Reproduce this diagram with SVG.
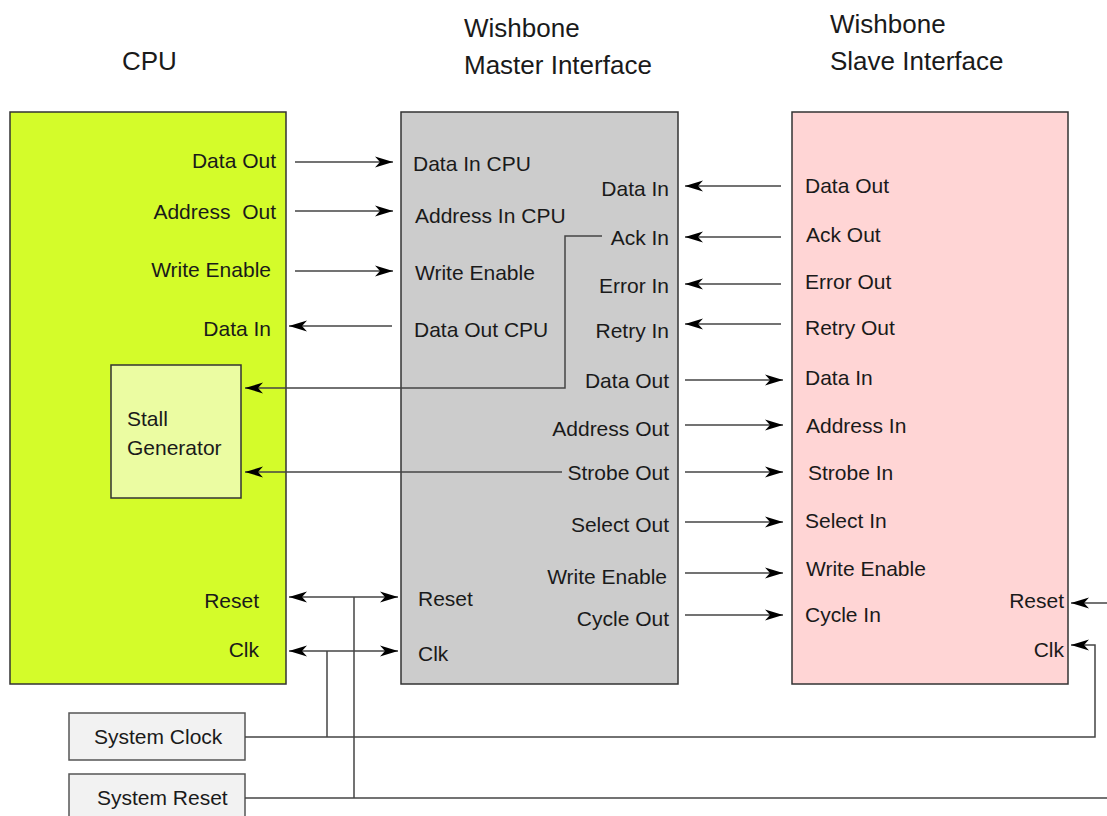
<svg xmlns="http://www.w3.org/2000/svg" width="1107" height="816" viewBox="0 0 1107 816">
<defs>
<style>
text{font-family:"Liberation Sans",Arial,sans-serif;font-size:21px;fill:#1a1a1a}
.t{font-size:26px}
.r{text-anchor:end}
.box{stroke:#333;stroke-width:1.5}
.w{fill:none;stroke:#444;stroke-width:1.5}
.a{marker-end:url(#ah)}
.b{marker-start:url(#ah);marker-end:url(#ah)}
</style>
<marker id="ah" markerUnits="userSpaceOnUse" markerWidth="20" markerHeight="14" refX="18" refY="7" orient="auto-start-reverse" viewBox="0 0 20 14">
<path d="M0,1.5 L18,7 L0,12.5 L5,7 Z" fill="#000"/>
</marker>
</defs>
<rect width="1107" height="816" fill="#fff"/>

<g id="titles">
<text class="t" x="122" y="70">CPU</text>
<text class="t" x="464" y="37">Wishbone</text>
<text class="t" x="464" y="74">Master Interface</text>
<text class="t" x="830" y="33">Wishbone</text>
<text class="t" x="830" y="70">Slave Interface</text>
</g>

<g id="cpu">
<rect class="box" x="10" y="112" width="276" height="572" fill="#d4fc2a"/>
<text class="r" x="276" y="168">Data Out</text>
<text class="r" x="276" y="219" xml:space="preserve" style="white-space:pre">Address  Out</text>
<text class="r" x="271" y="277">Write Enable</text>
<text class="r" x="271" y="336">Data In</text>
<text class="r" x="259" y="608">Reset</text>
<text class="r" x="259" y="657">Clk</text>
</g>

<g id="stall">
<rect class="box" x="111" y="365" width="130" height="133" fill="#ebfca2"/>
<text x="127" y="426">Stall</text>
<text x="127" y="455">Generator</text>
</g>

<g id="master">
<rect class="box" x="401" y="112" width="277" height="572" fill="#cccccc"/>
<text x="413" y="171">Data In CPU</text>
<text x="415" y="223">Address In CPU</text>
<text x="415" y="280">Write Enable</text>
<text x="414" y="337">Data Out CPU</text>
<text x="418" y="606">Reset</text>
<text x="418" y="661">Clk</text>
<text class="r" x="669" y="196">Data In</text>
<text class="r" x="669" y="245">Ack In</text>
<text class="r" x="669" y="293">Error In</text>
<text class="r" x="669" y="338">Retry In</text>
<text class="r" x="669" y="388">Data Out</text>
<text class="r" x="669" y="436">Address Out</text>
<text class="r" x="669" y="480">Strobe Out</text>
<text class="r" x="669" y="532">Select Out</text>
<text class="r" x="667" y="584">Write Enable</text>
<text class="r" x="669" y="626">Cycle Out</text>
</g>

<g id="slave">
<rect class="box" x="792" y="112" width="276" height="572" fill="#ffd5d5"/>
<text x="805" y="193">Data Out</text>
<text x="806" y="242">Ack Out</text>
<text x="805" y="289">Error Out</text>
<text x="805" y="335">Retry Out</text>
<text x="805" y="385">Data In</text>
<text x="806" y="433">Address In</text>
<text x="808" y="480">Strobe In</text>
<text x="805" y="528">Select In</text>
<text x="806" y="576">Write Enable</text>
<text x="805" y="622">Cycle In</text>
<text class="r" x="1064" y="608">Reset</text>
<text class="r" x="1064" y="657">Clk</text>
</g>

<g id="sysclock">
<rect x="69" y="713" width="176" height="47" fill="#f2f2f2" stroke="#555" stroke-width="1.5"/>
<text x="94" y="744">System Clock</text>
</g>
<g id="sysreset">
<rect x="69" y="774" width="176" height="50" fill="#f2f2f2" stroke="#555" stroke-width="1.5"/>
<text x="97" y="805">System Reset</text>
</g>

<g id="connectors">
<line class="w a" x1="295" y1="162" x2="393" y2="162"/>
<line class="w a" x1="295" y1="211" x2="393" y2="211"/>
<line class="w a" x1="295" y1="271" x2="393" y2="271"/>
<line class="w a" x1="392" y1="326" x2="289" y2="326"/>

<line class="w a" x1="781" y1="186" x2="685" y2="186"/>
<line class="w a" x1="781" y1="237" x2="685" y2="237"/>
<line class="w a" x1="781" y1="284" x2="685" y2="284"/>
<line class="w a" x1="781" y1="324" x2="685" y2="324"/>

<line class="w a" x1="685" y1="380" x2="783" y2="380"/>
<line class="w a" x1="685" y1="425" x2="783" y2="425"/>
<line class="w a" x1="685" y1="472" x2="783" y2="472"/>
<line class="w a" x1="685" y1="522" x2="783" y2="522"/>
<line class="w a" x1="685" y1="573" x2="783" y2="573"/>
<line class="w a" x1="685" y1="615" x2="783" y2="615"/>

<polyline class="w a" points="602,236 565,236 565,388 245,388"/>
<line class="w a" x1="562" y1="472" x2="245" y2="472"/>

<line class="w b" x1="289" y1="597" x2="398" y2="597"/>
<line class="w b" x1="289" y1="651" x2="398" y2="651"/>
<line class="w" x1="354" y1="597" x2="354" y2="798"/>
<line class="w" x1="327" y1="651" x2="327" y2="737"/>

<polyline class="w a" points="245,737 1095,737 1095,645 1071,645"/>
<line class="w a" x1="1107" y1="603" x2="1071" y2="603"/>
<line class="w" x1="245" y1="798" x2="1107" y2="798"/>
</g>
</svg>
